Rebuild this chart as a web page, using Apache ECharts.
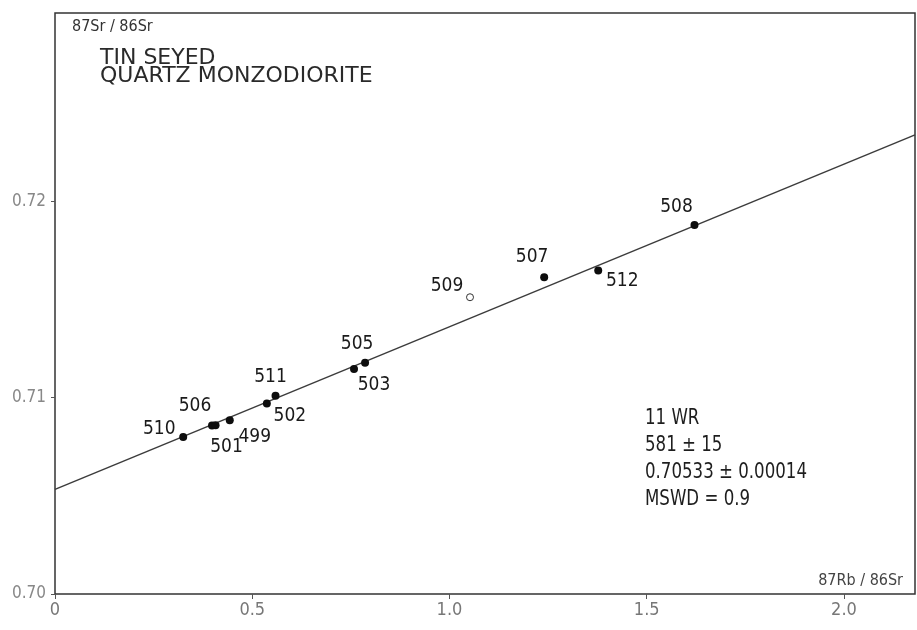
<!DOCTYPE html>
<html>
<head>
<meta charset="utf-8">
<title>Tin Seyed quartz monzodiorite – Rb-Sr isochron</title>
<script src="https://cdn.jsdelivr.net/npm/echarts@6/dist/echarts.min.js"></script>
<style>
  html, body { margin: 0; padding: 0; background: #ffffff; }
  #chart { width: 917px; height: 630px; }
</style>
</head>
<body>
<div id="chart"></div>
<script>
// Whole-rock samples used in the isochron regression
const sampleIds = ['510', '506', '501', '499', '502', '511', '503', '505', '507', '512', '508'];
const rbSr      = [0.325, 0.398, 0.407, 0.443, 0.537, 0.559, 0.758, 0.786, 1.240, 1.377, 1.621];
const srSr      = [0.70800, 0.70859, 0.70860, 0.70885, 0.70971, 0.71010, 0.71146, 0.71178, 0.71614, 0.71648, 0.71880];

// Sample left out of the regression (open symbol)
const excludedIds  = ['509'];
const excludedRbSr = [1.052];
const excludedSrSr = [0.71512];

// Isochron: initial ratio 0.70533 at Rb/Sr = 0, slope for 581 Ma
const isochronX = [0, 2.18];
const isochronY = [0.70533, 0.72339];

// Axis ticks
const xTicks = [0, 0.5, 1.0, 1.5, 2.0];
const yTicks = [0.70, 0.71, 0.72];

// Result block
const resultLines = ['11 WR', '581 ± 15', '0.70533 ± 0.00014', 'MSWD = 0.9'];

// Label placement around each symbol (pixels, from symbol centre)
const labelOffsets = {
  '510': [-24, -8], '506': [-17, -19], '501': [11, 22], '499': [25, 17],
  '502': [23, 13], '511': [-5, -19], '503': [20, 16], '505': [-8, -19],
  '509': [-23, -11], '507': [-12, -20], '512': [24, 11], '508': [-18, -18]
};

const narrow = "'Liberation Sans Narrow', 'DejaVu Sans Condensed', 'Roboto Condensed', sans-serif";
const plain = "'DejaVu Sans', 'Liberation Sans', sans-serif";

function pointData(ids, xs, ys) {
  return ids.map((id, i) => ({
    name: id,
    value: [xs[i], ys[i]],
    label: { offset: labelOffsets[id] }
  }));
}

const pointLabel = {
  show: true,
  position: 'inside',
  formatter: p => p.name,
  fontFamily: narrow,
  fontSize: 19,
  color: '#1a1a1a',
  textBorderWidth: 0,
  align: 'center',
  verticalAlign: 'middle'
};

const chart = echarts.init(document.getElementById('chart'), null, { renderer: 'canvas' });

chart.setOption({
  backgroundColor: '#ffffff',
  animation: false,
  grid: {
    left: 55, top: 13, right: 2, bottom: 36,
    show: true,
    borderColor: '#333',
    borderWidth: 1.5,
    containLabel: false
  },
  xAxis: {
    type: 'value',
    min: 0,
    max: 2.18,
    interval: 0.5,
    splitLine: { show: false },
    axisLine: { show: false },
    axisTick: { show: true, length: 5, lineStyle: { color: '#555', width: 1 } },
    axisLabel: {
      showMaxLabel: false,
      margin: 7,
      color: '#777',
      fontFamily: narrow,
      fontSize: 18,
      formatter: v => (xTicks.includes(v) ? (v === 0 ? '0' : v.toFixed(1)) : '')
    }
  },
  yAxis: {
    type: 'value',
    min: 0.70,
    max: 0.7296,
    interval: 0.01,
    splitLine: { show: false },
    axisLine: { show: false },
    axisTick: { show: true, length: 4, lineStyle: { color: '#555', width: 1 } },
    axisLabel: {
      showMaxLabel: false,
      margin: 9,
      color: '#888',
      fontFamily: narrow,
      fontSize: 17,
      formatter: v => (yTicks.some(t => Math.abs(t - v) < 1e-9) ? v.toFixed(2) : '')
    }
  },
  series: [
    {
      name: 'isochron',
      type: 'line',
      data: isochronX.map((x, i) => [x, isochronY[i]]),
      symbol: 'none',
      lineStyle: { color: '#3c3c3c', width: 1.5 },
      z: 1
    },
    {
      name: 'whole rock',
      type: 'scatter',
      data: pointData(sampleIds, rbSr, srSr),
      symbol: 'circle',
      symbolSize: 8,
      itemStyle: { color: '#0d0d0d', opacity: 1 },
      label: pointLabel,
      z: 3
    },
    {
      name: 'excluded',
      type: 'scatter',
      data: pointData(excludedIds, excludedRbSr, excludedSrSr),
      symbol: 'circle',
      symbolSize: 7,
      itemStyle: { color: '#fff', borderColor: '#333', borderWidth: 1, opacity: 1 },
      label: pointLabel,
      z: 3
    }
  ],
  graphic: [
    {
      type: 'text', left: 72, top: 19,
      style: { text: '87Sr / 86Sr', font: "16px " + narrow, fill: '#333' }
    },
    {
      type: 'text', left: 100, top: 47,
      style: { text: 'TIN SEYED\nQUARTZ MONZODIORITE', font: "22px " + plain, lineHeight: 18, fill: '#2a2a2a' }
    },
    {
      type: 'text', right: 14, top: 573,
      style: { text: '87Rb / 86Sr', font: "16px " + narrow, fill: '#444' }
    },
    {
      type: 'text', left: 645, top: 405, scaleX: 0.84,
      style: { text: resultLines.join('\n'), font: "22px " + narrow, lineHeight: 27, fill: '#1e1e1e' }
    }
  ]
});
</script>
</body>
</html>
